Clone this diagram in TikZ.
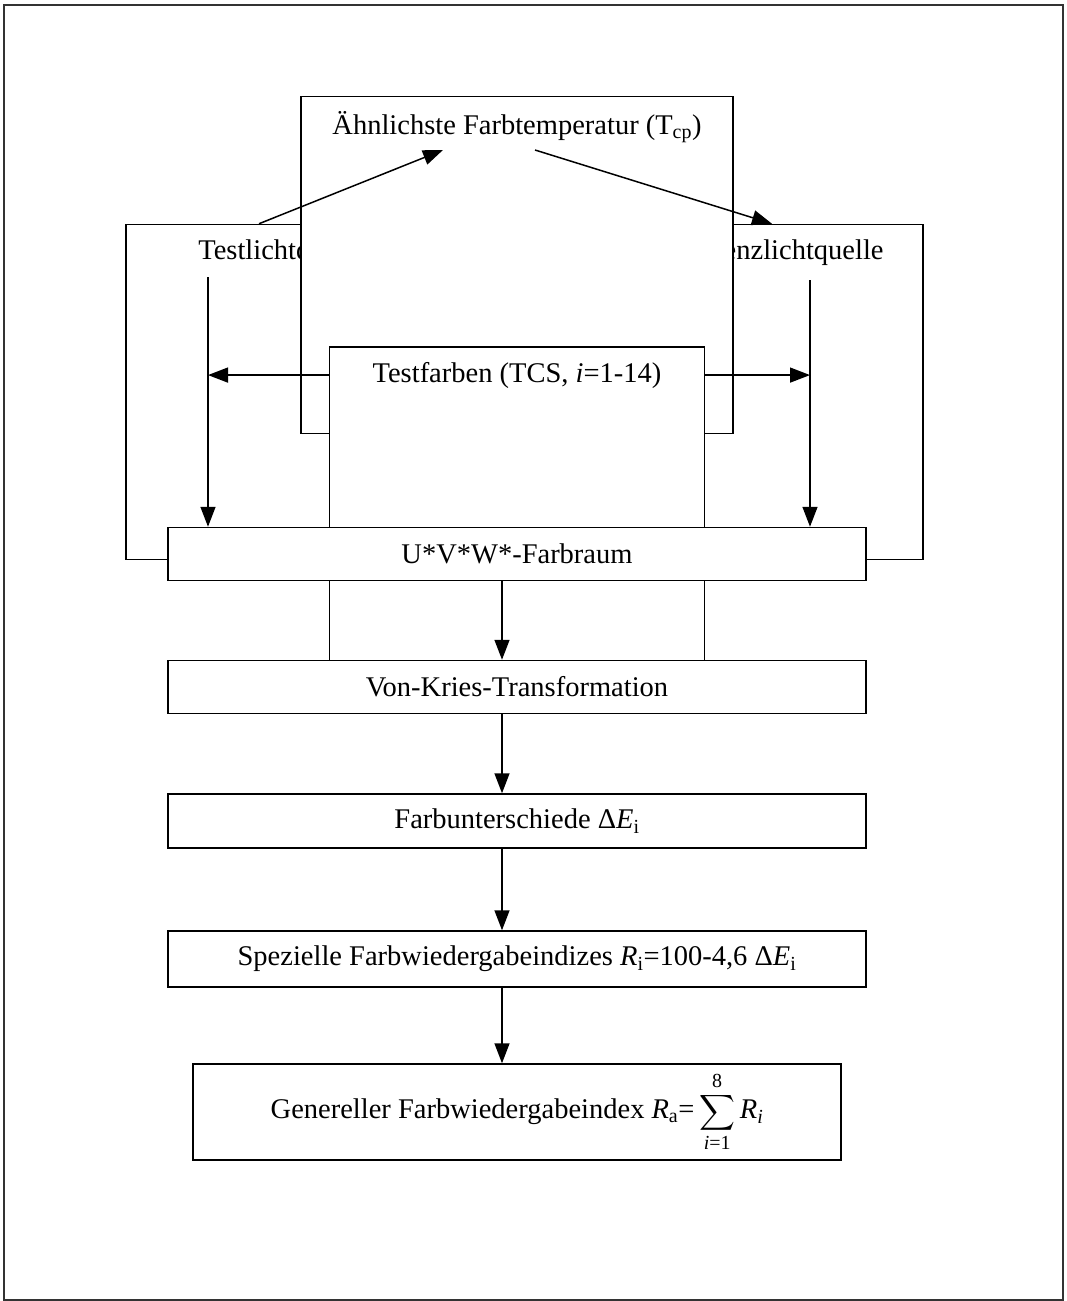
\documentclass[tikz,border=0pt]{standalone}
\usepackage{amsmath}
\usepackage{fontspec}
\setmainfont{Liberation Serif}
\usetikzlibrary{arrows.meta,positioning}

\begin{document}
\begin{tikzpicture}[x=1pt,y=-1pt,line width=1.5pt,
    >={Triangle[length=20pt,width=15pt]},
    font=\fontsize{28.5}{32}\selectfont,
    box/.style={draw,fill=white,inner sep=0pt},
    lbl/.style={inner sep=2pt}]
   \useasboundingbox (0,0) rectangle (1066,1301);
   \draw[line width=1.2pt,black!80] (4,5) rectangle (1063,1300);

   \node[box,minimum width=312,minimum height=335] (TL) at (282,392) {};
   \node[lbl,below=13pt of TL.north] (TLt) {Testlichtquelle};
   \node[box,minimum width=302,minimum height=335] (RQ) at (772,392) {};
   \node[lbl,below=13pt of RQ.north] (RQt) {Referenzlichtquelle};
   \node[box,minimum width=432,minimum height=337] (T) at (517,265) {};
   \node[lbl,below=13pt of T.north] (Tt) {Ähnlichste Farbtemperatur (T\textsubscript{cp})};
   \node[box,minimum width=375,minimum height=314] (TF) at (517,504) {};
   \node[lbl,below=13pt of TF.north] (TFt) {Testfarben (TCS, \textit{i}=1-14)};

   \node[box,minimum width=698,minimum height=53] (UVW) at (517,554) {U*V*W*-Farbraum};
   \node[box,minimum width=698,minimum height=53] (VK) at (517,687) {Von-Kries-Transformation};
   \node[box,minimum width=698,minimum height=54] (FU) at (517,821) {Farbunterschiede Δ\textit{E}\textsubscript{i}};
   \node[box,minimum width=698,minimum height=56] (SF) at (517,959)
      {Spezielle Farbwiedergabeindizes \textit{R}\textsubscript{i}=100-4,6 Δ\textit{E}\textsubscript{i}};
   \node[box,minimum width=648,minimum height=96] (GF) at (517,1112)
      {Genereller Farbwiedergabeindex \textit{R}\textsubscript{a}=\,$\displaystyle\sum_{\text{\textit{i}=1}}^{\text{8}}$\,\textit{R\textsubscript{i}}};

   \coordinate (la) at (208,277);
   \coordinate (ra) at (810,280);
   \draw[->] (la) -- (la |- UVW.north);
   \draw[->] (ra) -- (ra |- UVW.north);
   \draw[->] (TF.west |- TFt) -- (la |- TFt);
   \draw[->] (TF.east |- TFt) -- (ra |- TFt);
   \draw[->] ([xshift=-23pt]TL.north) -- (443,150);
   \draw[->] (535,150) -- (RQ.north);
   \foreach \a/\b in {UVW/VK,VK/FU,FU/SF,SF/GF}
      \draw[->] ([xshift=-15pt]\a.south) -- ([xshift=-15pt]\b.north);
\end{tikzpicture}
\end{document}
